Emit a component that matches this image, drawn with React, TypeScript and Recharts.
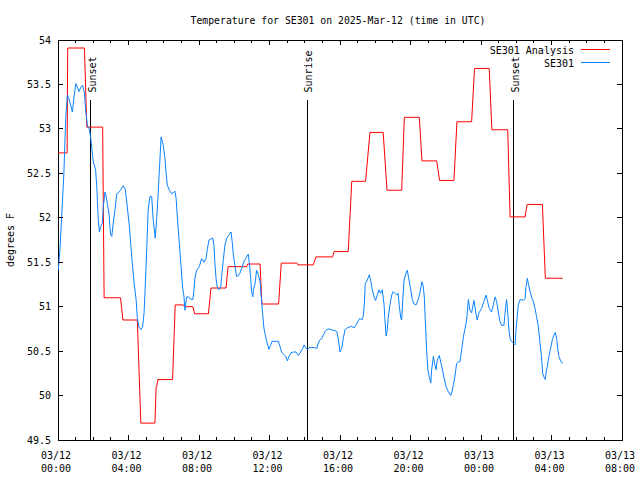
import { LineChart, Line, XAxis, YAxis, ReferenceLine, ReferenceArea } from "recharts"

// SE301 temperature, times are minutes since 03/12 00:00 UTC
const BLUE_TIMES = [
  1, 7, 15, 20, 24, 27, 32, 37, 43, 49,
  54, 61, 66, 71, 78, 84, 90, 94, 100, 107,
  111, 120, 128, 132, 137, 141, 145, 151, 154, 160,
  163, 168, 174, 179, 183, 188, 194, 200, 205, 213,
  222, 229, 236, 243, 248, 254, 259, 266, 270, 276,
  282, 288, 293, 296, 302, 307, 313, 319, 324, 331,
  336, 341, 351, 354, 358, 364, 368, 372, 379, 387,
  395, 398, 402, 407, 413, 419, 424, 429, 432, 438,
  444, 449, 459, 463, 466, 472, 481, 489, 497, 504,
  508, 514, 520, 527, 531, 534, 538, 542, 548, 554,
  557, 563, 568, 574, 583, 589, 593, 597, 603, 608,
  614, 620, 625, 631, 637, 642, 648, 651, 656, 659,
  663, 665, 671, 676, 682, 688, 691, 697, 701, 707,
  712, 718, 724, 729, 739, 750, 756, 761, 770, 775,
  781, 786, 793, 801, 810, 818, 826, 833, 838, 844,
  850, 855, 864, 872, 881, 886, 892, 898, 903, 911,
  920, 932, 943, 949, 954, 960, 966, 971, 977, 983,
  992, 1000, 1008, 1014, 1022, 1028, 1034, 1039, 1043, 1046,
  1053, 1060, 1064, 1070, 1076, 1081, 1087, 1093, 1098, 1104,
  1110, 1113, 1117, 1121, 1124, 1130, 1136, 1141, 1147, 1153,
  1158, 1162, 1167, 1170, 1173, 1178, 1185, 1189, 1195, 1201,
  1206, 1212, 1219, 1224, 1230, 1235, 1239, 1243, 1247, 1250,
  1255, 1259, 1264, 1269, 1272, 1278, 1282, 1287, 1291, 1298,
  1304, 1310, 1315, 1321, 1329, 1337, 1341, 1346, 1351, 1357,
  1363, 1368, 1374, 1380, 1385, 1391, 1397, 1402, 1408, 1416,
  1422, 1427, 1433, 1442, 1450, 1457, 1461, 1468, 1476, 1482,
  1488, 1493, 1499, 1505, 1510, 1518, 1522, 1527, 1531, 1535,
  1539, 1544, 1550, 1556, 1559, 1563, 1567, 1573, 1578, 1584,
  1590, 1593, 1598, 1601, 1607, 1612, 1618, 1624, 1629, 1635,
  1641, 1646, 1650, 1654, 1659, 1661, 1666, 1671, 1677, 1683,
  1688, 1693, 1698, 1701, 1705, 1711, 1718,
]
const BLUE_TEMPS = [
  51.41, 51.66, 52.17, 52.5, 52.91, 53.16, 53.38, 53.34, 53.27, 53.19,
  53.35, 53.51, 53.47, 53.42, 53.47, 53.49, 53.4, 53.21, 53.04, 52.99,
  52.91, 52.63, 52.54, 52.35, 51.98, 51.84, 51.9, 51.94, 52.12, 52.29,
  52.26, 52.16, 52.03, 51.81, 51.79, 51.94, 52.09, 52.27, 52.28, 52.31,
  52.36, 52.32, 52.12, 51.9, 51.68, 51.45, 51.27, 51.08, 50.87, 50.77,
  50.74, 50.77, 50.93, 51.15, 51.64, 52.09, 52.24, 52.24, 51.98, 51.77,
  51.99, 52.27, 52.91, 52.87, 52.82, 52.67, 52.5, 52.37, 52.31, 52.27,
  52.29, 52.3, 52.22, 51.98, 51.71, 51.45, 51.22, 51.11, 50.96, 51.11,
  51.11, 51.09, 51.08, 51.19, 51.32, 51.41, 51.45, 51.54, 51.5, 51.54,
  51.64, 51.75, 51.76, 51.77, 51.69, 51.49, 51.32, 51.22, 51.19, 51.22,
  51.34, 51.53, 51.69, 51.77, 51.81, 51.84, 51.73, 51.58, 51.45, 51.34,
  51.35, 51.38, 51.43, 51.49, 51.53, 51.56, 51.59, 51.5, 51.32, 51.17,
  51.11, 51.19, 51.26, 51.41, 51.36, 51.28, 51.15, 50.91, 50.76, 50.66,
  50.59, 50.52, 50.57, 50.61, 50.61, 50.61, 50.55, 50.49, 50.46, 50.44,
  50.39, 50.44, 50.48, 50.49, 50.49, 50.45, 50.49, 50.53, 50.57, 50.53,
  50.52, 50.54, 50.54, 50.54, 50.53, 50.59, 50.63, 50.64, 50.68, 50.73,
  50.75, 50.74, 50.73, 50.72, 50.64, 50.49, 50.53, 50.64, 50.74, 50.76,
  50.77, 50.78, 50.76, 50.79, 50.84, 50.87, 50.85, 50.89, 51.04, 51.26,
  51.3, 51.36, 51.3, 51.19, 51.11, 51.07, 51.13, 51.19, 51.15, 51.19,
  51.02, 50.85, 50.67, 50.74, 50.87, 51.02, 51.13, 51.17, 51.15, 51.13,
  51.15, 51.0, 50.87, 50.85, 51.04, 51.3, 51.38, 51.41, 51.3, 51.19,
  51.08, 51.03, 51.02, 51.06, 51.13, 51.21, 51.28, 51.24, 51.11, 50.87,
  50.51, 50.29, 50.21, 50.14, 50.29, 50.44, 50.36, 50.29, 50.4, 50.45,
  50.36, 50.27, 50.19, 50.1, 50.04, 50.0, 50.04, 50.12, 50.21, 50.36,
  50.38, 50.38, 50.51, 50.66, 50.74, 50.85, 51.08, 50.96, 50.93, 51.07,
  50.94, 50.85, 50.93, 50.98, 51.06, 51.13, 51.08, 50.98, 50.94, 51.02,
  51.11, 51.06, 50.94, 50.83, 50.79, 50.79, 50.93, 51.08, 50.93, 50.74,
  50.64, 50.61, 50.59, 50.57, 50.74, 50.87, 51.02, 51.08, 51.08, 51.07,
  51.09, 51.22, 51.32, 51.26, 51.17, 51.11, 51.06, 50.98, 50.89, 50.78,
  50.59, 50.44, 50.25, 50.21, 50.18, 50.25, 50.33, 50.44, 50.53, 50.63,
  50.68, 50.71, 50.63, 50.53, 50.44, 50.39, 50.36,
]

// analysis: each level holds from start to end minute
const RED_STEP_START = [
  0, 33, 98, 157, 221, 282, 334, 340, 399, 432,
  465, 521, 579, 646, 694, 760, 817, 878, 940, 1000,
  1062, 1120, 1179, 1239, 1299, 1358, 1418, 1477, 1539, 1597, 1659,
]
const RED_STEP_END = [
  31, 90, 152, 213, 270, 330, 336, 390, 426, 459,
  512, 572, 642, 688, 751, 813, 869, 935, 988, 1047,
  1107, 1170, 1230, 1289, 1348, 1408, 1468, 1531, 1590, 1649, 1718,
]
const RED_STEP_TEMP = [
  52.73, 53.91, 53.02, 51.1, 50.85, 49.69, 50.1, 50.18, 51.02, 51.0,
  50.92, 51.21, 51.45, 51.48, 51.03, 51.49, 51.47, 51.56, 51.62, 52.41,
  52.96, 52.31, 53.13, 52.64, 52.42, 53.08, 53.68, 52.99, 52.01, 52.15, 51.32,
]

const SERIES_NAMES = ["SE301 Analysis", "SE301"]
const SERIES_COLORS = ["#ff0000", "#0a82ff"]

const SUN_EVENTS = ["Sunset", "Sunrise", "Sunset"]
const SUN_TIMES = [112, 848, 1552]
const SUN_LINE_TOP = 53.33

const MAJOR_TICKS = [0, 240, 480, 720, 960, 1200, 1440, 1680, 1920]
const TICK_DATES = ["03/12", "03/12", "03/12", "03/12", "03/12", "03/12", "03/13", "03/13", "03/13"]
const TICK_TIMES = ["00:00", "04:00", "08:00", "12:00", "16:00", "20:00", "00:00", "04:00", "08:00"]
const HOUR_TICKS = Array.from({ length: 33 }, (_, i) => i * 60)

const Y_TICKS = [49.5, 50, 50.5, 51, 51.5, 52, 52.5, 53, 53.5, 54]
const Y_TICK_LABELS = ["49.5", "50", "50.5", "51", "51.5", "52", "52.5", "53", "53.5", "54"]

const FONT = "'DejaVu Sans Mono', monospace"
const PLOT = { left: 58, right: 622, top: 40, bottom: 440 }

const blueData = BLUE_TIMES.map((t, i) => ({ t, v: BLUE_TEMPS[i] }))
const redData = RED_STEP_START.flatMap((s, i) => [
  { t: s, v: RED_STEP_TEMP[i] },
  { t: RED_STEP_END[i], v: RED_STEP_TEMP[i] },
])

function XTick({ x, payload }: any) {
  const i = MAJOR_TICKS.indexOf(payload.value)
  const len = i >= 0 ? 5 : 3
  return (
    <g>
      <line x1={x} x2={x} y1={PLOT.bottom} y2={PLOT.bottom - len} stroke="#000" shapeRendering="crispEdges" />
      <line x1={x} x2={x} y1={PLOT.top} y2={PLOT.top + len} stroke="#000" shapeRendering="crispEdges" />
      {i >= 0 && (
        <text x={x - 2} y={455} textAnchor="middle" dominantBaseline="central" fontFamily={FONT} fontSize={10} fill="#000">
          {TICK_DATES[i]}
        </text>
      )}
      {i >= 0 && (
        <text x={x - 2} y={468} textAnchor="middle" dominantBaseline="central" fontFamily={FONT} fontSize={10} fill="#000">
          {TICK_TIMES[i]}
        </text>
      )}
    </g>
  )
}

function YTick({ y, payload }: any) {
  const i = Y_TICKS.indexOf(payload.value)
  return (
    <g>
      <line x1={PLOT.left} x2={PLOT.left + 5} y1={y} y2={y} stroke="#000" shapeRendering="crispEdges" />
      <line x1={PLOT.right} x2={PLOT.right - 5} y1={y} y2={y} stroke="#000" shapeRendering="crispEdges" />
      <text x={51} y={y} textAnchor="end" dominantBaseline="central" fontFamily={FONT} fontSize={10} fill="#000">
        {Y_TICK_LABELS[i]}
      </text>
    </g>
  )
}

function SunLabel({ viewBox, text }: any) {
  const { x, y } = viewBox
  return (
    <text
      transform={`translate(${x + 5},${y - 7}) rotate(-90)`}
      fontFamily={FONT}
      fontSize={10}
      fill="#000"
    >
      {text}
    </text>
  )
}

export default function App() {
  return (
    <div style={{ position: "absolute", left: 0, top: 0, width: 640, height: 480, background: "#fff" }}>
      <LineChart width={640} height={480} margin={{ top: 40, right: 18, bottom: 0, left: 0 }}>
        <XAxis
          type="number"
          dataKey="t"
          domain={[0, 1920]}
          ticks={HOUR_TICKS}
          interval={0}
          height={40}
          axisLine={false}
          tickLine={false}
          tick={<XTick />}
          allowDataOverflow
        />
        <YAxis
          type="number"
          domain={[49.5, 54]}
          ticks={Y_TICKS}
          interval={0}
          width={58}
          axisLine={false}
          tickLine={false}
          tick={<YTick />}
          allowDataOverflow
        />
        <ReferenceArea x1={0} x2={1920} y1={49.5} y2={54} fill="none" stroke="#000" shapeRendering="crispEdges" />
        {SUN_TIMES.map((t, i) => (
          <ReferenceLine
            key={i}
            segment={[{ x: t, y: SUN_LINE_TOP }, { x: t, y: 49.5 }]}
            stroke="#000"
            shapeRendering="crispEdges"
            label={<SunLabel text={SUN_EVENTS[i]} />}
          />
        ))}
        <Line
          data={redData}
          dataKey="v"
          name={SERIES_NAMES[0]}
          type="linear"
          stroke={SERIES_COLORS[0]}
          strokeWidth={1}
          dot={false}
          isAnimationActive={false}
        />
        <Line
          data={blueData}
          dataKey="v"
          name={SERIES_NAMES[1]}
          type="linear"
          stroke={SERIES_COLORS[1]}
          strokeWidth={1}
          dot={false}
          isAnimationActive={false}
        />
      </LineChart>

      {/* title, axis title and key */}
      <svg width={640} height={480} style={{ position: "absolute", left: 0, top: 0, pointerEvents: "none" }}>
        <text x={338} y={20} textAnchor="middle" dominantBaseline="central" fontFamily={FONT} fontSize={9.8} fill="#000">
          Temperature for SE301 on 2025-Mar-12 (time in UTC)
        </text>
        <text
          transform="translate(10,240) rotate(-90)"
          textAnchor="middle"
          dominantBaseline="central"
          fontFamily={FONT}
          fontSize={10}
          fill="#000"
        >
          degrees F
        </text>
        {SERIES_NAMES.map((name, i) => (
          <g key={name}>
            <text x={574} y={50 + i * 13} textAnchor="end" dominantBaseline="central" fontFamily={FONT} fontSize={10} fill="#000">
              {name}
            </text>
            <line x1={581} x2={610} y1={49 + i * 13} y2={49 + i * 13} stroke={SERIES_COLORS[i]} strokeWidth={1} shapeRendering="crispEdges" />
          </g>
        ))}
      </svg>
    </div>
  )
}
